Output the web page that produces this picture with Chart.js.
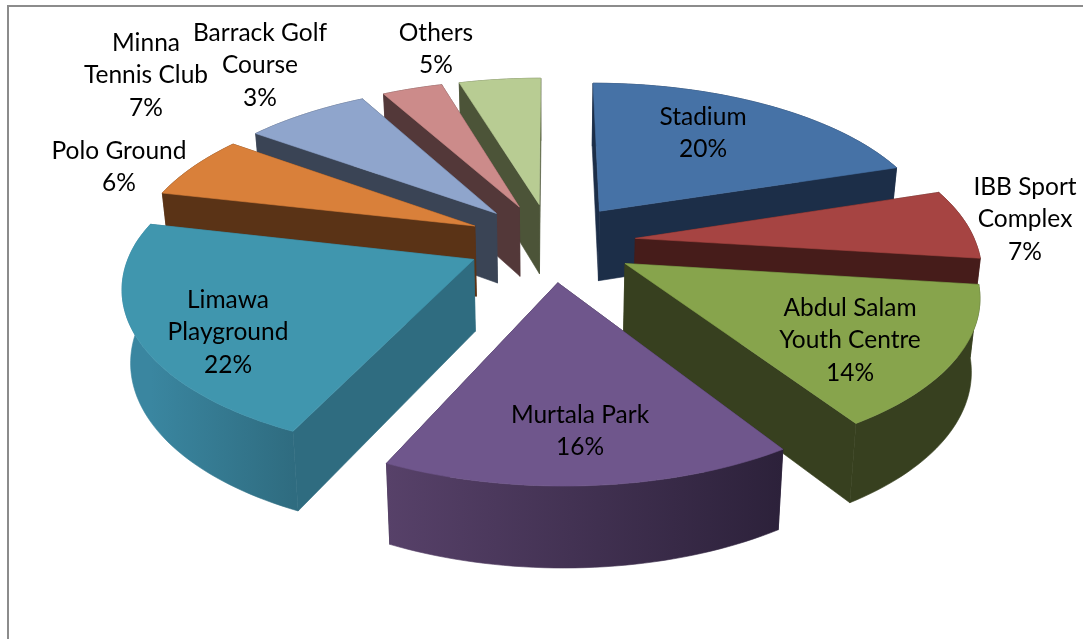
<!DOCTYPE html>
<html>
<head>
<meta charset="utf-8">
<style>
  html, body { margin: 0; padding: 0; background: #fff; }
  canvas { display: block; }
</style>
<script src="https://cdn.jsdelivr.net/npm/chart.js@4"></script>
</head>
<body>
<canvas id="grafico" width="1083" height="639"></canvas>
<script>
// Data (the printed labels are these shares rounded)
const categories = [
    ['Stadium'], ['IBB Sport', 'Complex'], ['Abdul Salam', 'Youth Centre'], ['Murtala Park'],
    ['Limawa', 'Playground'], ['Polo Ground'], ['Minna', 'Tennis Club'], ['Barrack Golf', 'Course'], ['Others']
];
const shares = [20, 7, 14, 16, 21.6, 6.4, 7, 3.4, 4.6];

// Colours: top face, side at the left end, side at the right end
const topColors = ['#4672A6', '#A64442', '#87A44C', '#6F568C', '#4096AE', '#D9803A', '#8FA5CC', '#CC8B8A', '#B8CC93'];
const sideLeft = ['#1C2E48', '#461C1A', '#37401F', '#574169', '#3A86A0', '#5A3316', '#3A4455', '#533839', '#4C5438'];
const sideRight = ['#1C2E48', '#461C1A', '#37401F', '#2C213A', '#2F6C80', '#5A3316', '#3A4455', '#533839', '#4C5438'];

// Centre of each label block and distance between its lines
const labelX = [703, 1025, 850, 580, 228, 119, 146, 260, 436];
const labelY = [117, 187, 308, 415, 300, 151, 43, 33, 33];
const lineStep = 32.3;

// Slices far from the viewer are painted first
const paintOrder = [8, 7, 6, 5, 4, 0, 1, 2, 3];

// Tilted plane with perspective: u to the right, v toward the viewer
const view = { x0: 551, y0: 242, a: 340, b: 157, c: 0.157, explode: 0.25, depth: 71, depthC: 0.107, nearShift: 5, taper: 0.98 };

function project(u, v) {
    const w = 1 - view.c * v;
    return {
        x: view.x0 + view.a * u / w + view.nearShift * Math.max(v, 0),
        y: view.y0 + view.b * v / w,
        h: view.depth / (1 - view.depthC * v)
    };
}

// Point on a slice: angle is the arc element's canvas angle, r is 0 at the tip and 1 at the rim
function slicePoint(arc, angle, r) {
    const mid = (arc.startAngle + arc.endAngle) / 2;
    const u = view.explode * Math.cos(mid) + r * Math.cos(angle);
    const v = view.explode * Math.sin(mid) + r * Math.sin(angle);
    return project(u, v);
}

function rimPoints(arc) {
    const pts = [];
    const steps = Math.max(6, Math.ceil((arc.endAngle - arc.startAngle) * 40));
    for (let s = 0; s <= steps; s++) {
        pts.push(slicePoint(arc, arc.startAngle + (arc.endAngle - arc.startAngle) * s / steps, 1));
    }
    return pts;
}

function fillPolygon(ctx, pts, color) {
    ctx.beginPath();
    pts.forEach((p, i) => i ? ctx.lineTo(p.x, p.y) : ctx.moveTo(p.x, p.y));
    ctx.closePath();
    ctx.fillStyle = color;
    ctx.strokeStyle = color;
    ctx.lineWidth = 0.6;
    ctx.fill();
    ctx.stroke();
}

// The bottom edge of a wall: lower down and a little closer to the middle
function lowered(p) {
    return { x: view.x0 + (p.x - view.x0) * view.taper, y: p.y + p.h, h: p.h };
}

function drawSlice(ctx, arc, i, color) {
    const tip = slicePoint(arc, arc.startAngle, 0);
    const rim = rimPoints(arc);
    const first = rim[0];
    const last = rim[rim.length - 1];

    // Side walls, the one further back goes first
    const walls = [
        { y: (first.y + tip.y) / 2, pts: [tip, first, lowered(first), lowered(tip)], color: sideRight[i] },
        { y: (last.y + tip.y) / 2, pts: [tip, last, lowered(last), lowered(tip)], color: sideRight[i] },
    ].sort((p, q) => p.y - q.y);
    walls.forEach(wall => fillPolygon(ctx, wall.pts, wall.color));

    // Outer wall, with its horizontal shading
    const grad = ctx.createLinearGradient(Math.min(first.x, last.x), 0, Math.max(first.x, last.x), 0);
    grad.addColorStop(0, sideLeft[i]);
    grad.addColorStop(1, sideRight[i]);
    fillPolygon(ctx, rim.concat(rim.slice().reverse().map(lowered)), grad);

    // Top face
    fillPolygon(ctx, [tip].concat(rim), color);
}

const pie3d = {
    id: 'pie3d',
    beforeDraw(chart) {
        const ctx = chart.ctx;
        ctx.save();
        ctx.strokeStyle = '#8C8C8C';
        ctx.lineWidth = 2;
        ctx.beginPath();
        ctx.moveTo(8, 639);
        ctx.lineTo(8, 6);
        ctx.lineTo(1083, 6);
        ctx.stroke();
        ctx.restore();
    },
    // Replaces the flat arcs: every slice comes from the arc elements Chart.js has computed
    beforeDatasetsDraw(chart) {
        const ctx = chart.ctx;
        const arcs = chart.getDatasetMeta(0).data;
        const colors = chart.data.datasets[0].backgroundColor;
        ctx.save();
        paintOrder.forEach(i => drawSlice(ctx, arcs[i], i, colors[i]));
        ctx.restore();
        return false;
    },
    afterDraw(chart) {
        const ctx = chart.ctx;
        const values = chart.data.datasets[0].data;
        ctx.save();
        ctx.font = '24.5px Lato, "Open Sans", sans-serif';
        ctx.fillStyle = '#000';
        ctx.textAlign = 'center';
        ctx.textBaseline = 'middle';
        chart.data.labels.forEach((label, i) => {
            const lines = label.concat(Math.round(values[i]) + '%');
            lines.forEach((line, n) => ctx.fillText(line, labelX[i], labelY[i] + n * lineStep));
        });
        ctx.restore();
    }
};

new Chart(document.getElementById('grafico').getContext('2d'), {
    type: 'pie',
    data: {
        labels: categories,
        datasets: [{ data: shares, backgroundColor: topColors, borderWidth: 0 }]
    },
    options: {
        responsive: false,
        animation: false,
        plugins: { legend: { display: false }, tooltip: { enabled: false } }
    },
    plugins: [pie3d]
});
</script>
</body>
</html>
